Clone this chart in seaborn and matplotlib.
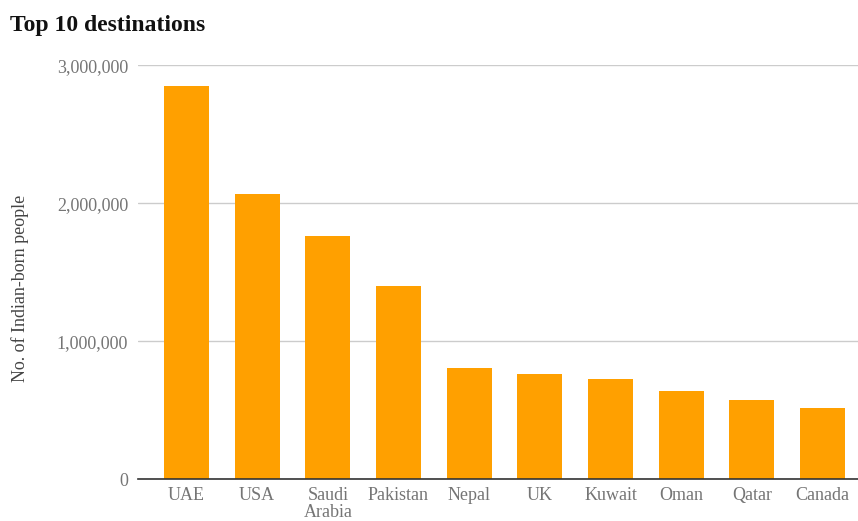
import matplotlib
matplotlib.use("Agg")
import matplotlib.pyplot as plt
import matplotlib.ticker as mticker
import pandas as pd
import seaborn as sns

countries = ["UAE", "USA", "Saudi\nArabia", "Pakistan", "Nepal",
             "UK", "Kuwait", "Oman", "Qatar", "Canada"]
people = [2854000, 2065000, 1765000, 1397000, 806000,
          763000, 727000, 641000, 574000, 518000]
y_ticks = [0, 1000000, 2000000, 3000000]

sns.set_style("white")
plt.rcParams["font.family"] = ["Liberation Serif", "DejaVu Serif"]

bar_color = "#FFA000"
tick_color = "#757575"

df = pd.DataFrame({"country": countries, "people": people})

fig = plt.figure(figsize=(8.58, 5.21), dpi=100)
ax = fig.add_axes([0.1608, 0.0806, 0.8392, 0.7937])

sns.barplot(data=df, x="country", y="people", ax=ax, color=bar_color,
            saturation=1, width=0.64, edgecolor="none", zorder=3)

ax.set_ylim(0, 3000000)
ax.set_xlim(-0.686, 9.502)
ax.set_yticks(y_ticks)
ax.yaxis.set_major_formatter(mticker.FuncFormatter(lambda v, _: f"{int(v):,}"))
ax.grid(axis="y", color="#cccccc", linewidth=1, zorder=0)
ax.grid(axis="x", visible=False)

for side in ["top", "right", "left"]:
    ax.spines[side].set_visible(False)
ax.spines["bottom"].set_color("#333333")
ax.spines["bottom"].set_linewidth(1.2)
ax.spines["bottom"].set_zorder(4)

ax.tick_params(axis="y", length=0, pad=7, labelsize=13, labelcolor=tick_color)
ax.tick_params(axis="x", length=0, pad=6, labelsize=13, labelcolor=tick_color)
for lbl in ax.get_xticklabels():
    lbl.set_linespacing(0.95)

ax.set_xlabel("")
ax.set_ylabel("No. of Indian-born people", fontsize=13, color="#444444")
ax.yaxis.set_label_coords(-0.152, 0.46)

fig.text(10 / 858, 1 - 25 / 521, "Top 10 destinations", fontsize=17,
         fontweight="bold", color="#111111", va="center", ha="left")

fig.savefig("out.png", dpi=100)
